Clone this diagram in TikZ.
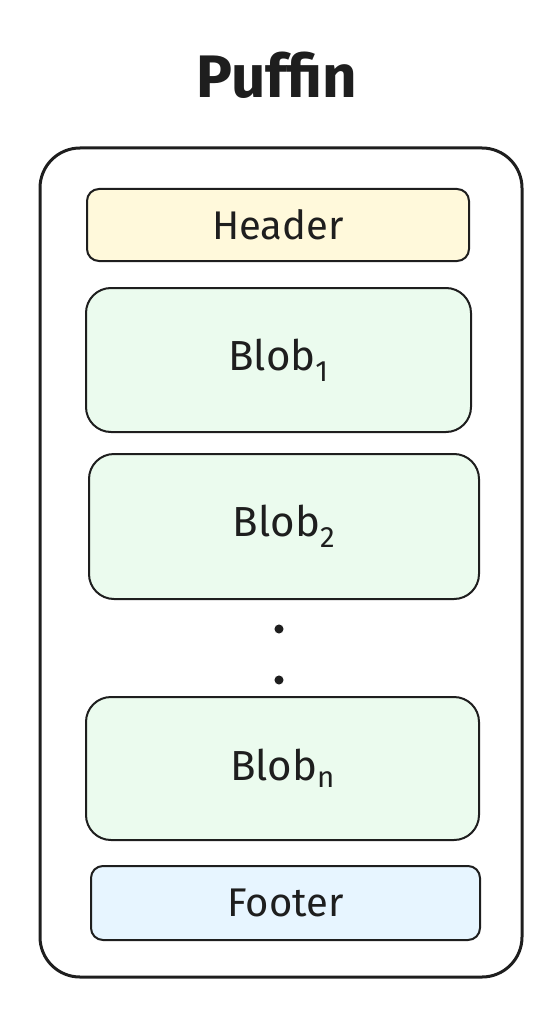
\documentclass[tikz,border=0pt]{standalone}
\usepackage{fontspec}
\setmainfont{Fira Sans}
\usepackage{tikz}
\usetikzlibrary{fit, shapes}

\definecolor{headfill}{HTML}{FFF9DB}
\definecolor{blobfill}{HTML}{EBFBEE}
\definecolor{footfill}{HTML}{E7F5FF}
\definecolor{ink}{HTML}{1E1E1E}

\begin{document}
\begin{tikzpicture}[x=1pt, y=-1pt, line width=2pt, draw=ink, text=ink]
		\useasboundingbox (0,0) rectangle (558,1016);
		\node[font=\fontsize{60}{70}\selectfont\bfseries] (title) at (277,75) {Puffin};
		\node[draw, line width=3pt, rounded corners=40pt, minimum width=482pt, minimum height=829pt] (page) at (281,562.5) {};
		\foreach[count=\i] \part/\cx/\cy/\w/\h/\col/\rad/\fs/\txt in {
			head/278/225/382/72/headfill/12/40/{Header},
			blobA/278.5/360/385/144/blobfill/25/42/{Blob\textsubscript{1}},
			blobB/284/526.5/390/145/blobfill/25/42/{Blob\textsubscript{2}},
			blobN/282.5/768.5/393/143/blobfill/25/42/{Blob\textsubscript{n}},
			foot/285.5/903/389/74/footfill/12/40/{Footer}} {
			\node[draw, fill=\col, rounded corners=\rad pt, minimum width=\w pt, minimum height=\h pt,
				font=\fontsize{\fs}{\fs}\selectfont] (\part) at (\cx,\cy) {\txt};
		}
		\node[circle, fill=ink, inner sep=3.2pt] (dot1) at (279,629) {};
		\node[circle, fill=ink, inner sep=3.2pt] (dot2) at (279,680) {};
	\end{tikzpicture}
\end{document}
